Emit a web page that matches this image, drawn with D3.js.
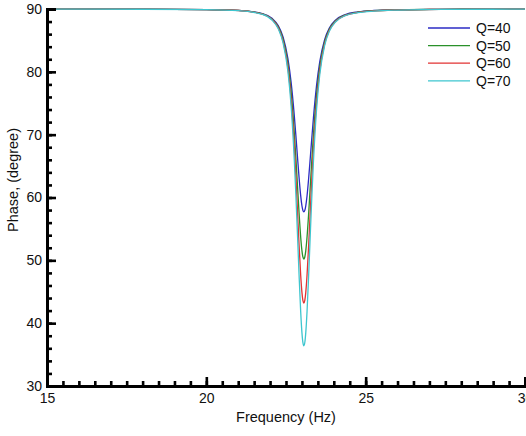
<!DOCTYPE html>
<html>
<head>
<meta charset="utf-8">
<script src="https://cdn.jsdelivr.net/npm/d3@7"></script>
<style>
  body { margin: 0; background: #fff; }
  text { font-family: "Liberation Sans", Arial, sans-serif; }
</style>
</head>
<body>
<script>
const W = 526, H = 436
const margin = {top: 9, right: 2, bottom: 50, left: 47}

// frequency samples (Hz)
const freq = [15, 18, 20, 21, 21.76, 22.06, 22.26, 22.41, 22.56, 22.66, 22.76, 22.81, 22.86, 22.91, 22.96, 23.00, 23.03,
  23.06, 23.09, 23.12, 23.16, 23.21, 23.26, 23.31, 23.36, 23.46, 23.56, 23.71, 23.86, 24.06, 24.36, 24.76, 25.26, 26, 27, 28, 30]

// phase (degree) per Q
const q40 = [89.99, 89.97, 89.91, 89.78, 89.28, 88.52, 87.32, 85.52, 82.12, 78.37, 73.04, 69.84, 66.46, 63.18, 60.33, 58.69, 57.96,
  57.70, 57.95, 58.65, 60.24, 62.98, 66.18, 69.48, 72.62, 77.88, 81.63, 85.09, 86.97, 88.26, 89.11, 89.54, 89.76, 89.87, 89.94, 89.96, 89.98]
const q50 = [89.99, 89.97, 89.91, 89.77, 89.23, 88.42, 87.13, 85.16, 81.32, 76.91, 70.38, 66.33, 61.93, 57.56, 53.76, 51.54, 50.54,
  50.20, 50.53, 51.51, 53.67, 57.38, 61.65, 65.97, 69.95, 76.42, 80.83, 84.72, 86.77, 88.14, 89.04, 89.50, 89.73, 89.86, 89.93, 89.96, 89.98]
const q60 = [89.99, 89.97, 89.90, 89.76, 89.18, 88.33, 86.97, 84.86, 80.67, 75.70, 68.11, 63.24, 57.89, 52.48, 47.71, 44.91, 43.63,
  43.20, 43.62, 44.87, 47.62, 52.30, 57.61, 62.88, 67.68, 75.21, 80.17, 84.42, 86.61, 88.05, 88.98, 89.46, 89.70, 89.85, 89.92, 89.95, 89.98]
const q70 = [89.99, 89.96, 89.89, 89.74, 89.14, 88.25, 86.81, 84.57, 80.06, 74.60, 66.01, 60.41, 54.14, 47.70, 41.92, 38.50, 36.93,
  36.40, 36.92, 38.46, 41.83, 47.52, 53.86, 60.04, 65.58, 74.10, 79.57, 84.14, 86.45, 87.97, 88.95, 89.42, 89.67, 89.83, 89.91, 89.95, 89.97]

const seriesNames = ['Q=40', 'Q=50', 'Q=60', 'Q=70']
const seriesValues = [q40, q50, q60, q70]
const colors = ['#2b2bc4', '#2a912a', '#e23232', '#3ec6cf']

const xTicks = [15, 20, 25, 30]
const yTicks = [30, 40, 50, 60, 70, 80, 90]

const svg = d3.select('body').append('svg')
  .attr('width', W)
  .attr('height', H)

const x = d3.scaleLinear().domain([15, 30]).range([margin.left, W - margin.right + 1])
const y = d3.scaleLinear().domain([30, 90]).range([H - margin.bottom, margin.top])

const line = d3.line()
  .x(function(d) { return x(d[0]) })
  .y(function(d) { return y(d[1]) })
  .curve(d3.curveMonotoneX)

seriesValues.forEach(function(vals, i) {
  svg.append('path')
    .datum(freq.map(function(f, j) { return [f, vals[j]] }))
    .attr('d', line)
    .attr('fill', 'none')
    .attr('stroke', colors[i])
    .attr('stroke-width', 1.3)
})

// minor ticks
svg.append('g')
  .attr('transform', 'translate(0,' + y(30) + ')')
  .call(d3.axisBottom(x).tickValues(d3.range(15, 30.01, 0.5)).tickSize(-5).tickFormat(''))
svg.append('g')
  .attr('transform', 'translate(' + x(15) + ',0)')
  .call(d3.axisLeft(y).tickValues(d3.range(30, 90.01, 2)).tickSize(-5).tickFormat(''))

// major ticks + labels
const xAxis = svg.append('g')
  .attr('transform', 'translate(0,' + y(30) + ')')
  .call(d3.axisBottom(x).tickValues(xTicks).tickSize(-9).tickPadding(6))
const yAxis = svg.append('g')
  .attr('transform', 'translate(' + x(15) + ',0)')
  .call(d3.axisLeft(y).tickValues(yTicks).tickSize(-9).tickPadding(6))

svg.selectAll('.tick line').attr('stroke', '#000').attr('stroke-width', 2.6)
svg.selectAll('.domain').attr('stroke', '#000').attr('stroke-width', 3)
svg.selectAll('.tick text')
  .style('font-size', '14px')
  .attr('fill', '#111')
xAxis.selectAll('.tick text').attr('y', 7)
yAxis.selectAll('.tick text').attr('x', -5)

svg.append('text')
  .attr('x', 286)
  .attr('y', 422)
  .attr('text-anchor', 'middle')
  .style('font-size', '14.5px')
  .attr('fill', '#111')
  .text('Frequency (Hz)')

svg.append('text')
  .attr('transform', 'translate(18,' + 180 + ') rotate(-90)')
  .attr('text-anchor', 'middle')
  .style('font-size', '14.5px')
  .attr('fill', '#111')
  .text('Phase, (degree)')

// legend
const legend = svg.append('g').attr('class', 'legend')
seriesNames.forEach(function(name, i) {
  const ly = 28 + i * 17.6
  legend.append('line')
    .attr('x1', 428).attr('x2', 470)
    .attr('y1', ly).attr('y2', ly)
    .attr('stroke', colors[i])
    .attr('stroke-width', 1.3)
  legend.append('text')
    .attr('x', 476)
    .attr('y', ly + 5)
    .style('font-size', '14px')
    .attr('fill', '#111')
    .text(name)
})
</script>
</body>
</html>
